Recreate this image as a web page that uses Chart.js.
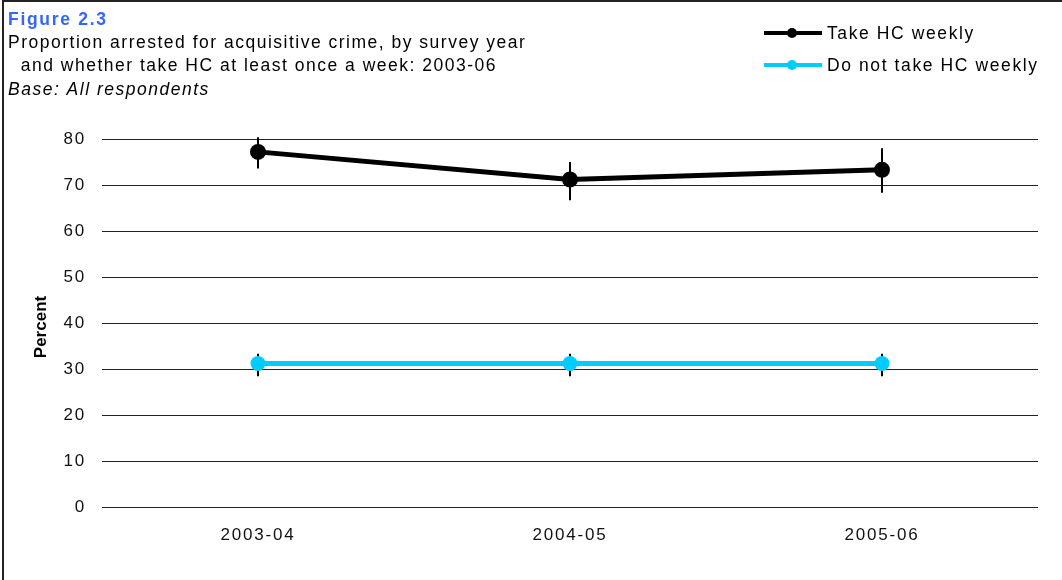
<!DOCTYPE html>
<html><head><meta charset="utf-8">
<script src="https://cdn.jsdelivr.net/npm/chart.js@4/dist/chart.umd.min.js"></script>
<style>html,body{margin:0;padding:0;background:#fff;}canvas{display:block;}</style>
</head><body>
<canvas id="c" width="1062" height="580"></canvas>
<script>
const categories = ['2003-04', '2004-05', '2005-06'];
const seriesNames = ['Take HC weekly', 'Do not take HC weekly'];
const takeWeekly = [77.2, 71.2, 73.3];
const takeWeeklyLow = [73.6, 66.7, 68.3];
const takeWeeklyHigh = [80.4, 75.0, 78.0];
const notWeekly = [31.2, 31.2, 31.2];
const notWeeklyLow = [28.4, 28.4, 28.4];
const notWeeklyHigh = [33.3, 33.3, 33.3];
const yMin = 0, yMax = 80, yStep = 10;
const figureLabel = 'Figure 2.3';
const titleLines = ['Proportion arrested for acquisitive crime, by survey year', '  and whether take HC at least once a week: 2003-06'];
const baseLine = 'Base: All respondents';
const yTitle = 'Percent';

const FONT = '"Liberation Sans", Arial, sans-serif';
const colors = ['#000000', '#00CCFF'];
const lows = [takeWeeklyLow, notWeeklyLow];
const highs = [takeWeeklyHigh, notWeeklyHigh];

const spacingPlugin = {
  id: 'spacing',
  beforeDraw(chart) {
    const ctx = chart.ctx;
    ctx.save();
    ctx.fillStyle = '#fff';
    ctx.fillRect(0, 0, chart.width, chart.height);
    ctx.restore();
    ctx.letterSpacing = '1.8px';
  }
};

const errorBarPlugin = {
  id: 'errorBars',
  beforeDatasetsDraw(chart) {
    const ctx = chart.ctx;
    const y = chart.scales.y;
    ctx.save();
    ctx.strokeStyle = '#000';
    ctx.lineWidth = 2;
    chart.data.datasets.forEach((ds, i) => {
      const meta = chart.getDatasetMeta(i);
      meta.data.forEach((pt, j) => {
        const x = Math.round(pt.x);
        ctx.beginPath();
        ctx.moveTo(x, y.getPixelForValue(highs[i][j]));
        ctx.lineTo(x, y.getPixelForValue(lows[i][j]));
        ctx.stroke();
      });
    });
    ctx.restore();
  }
};

const decorPlugin = {
  id: 'decor',
  afterDraw(chart) {
    const ctx = chart.ctx;
    ctx.save();
    ctx.strokeStyle = '#222';
    ctx.lineWidth = 2;
    ctx.beginPath();
    ctx.moveTo(3, 580);
    ctx.lineTo(3, 1);
    ctx.lineTo(1062, 1);
    ctx.stroke();
    ctx.textBaseline = 'alphabetic';
    ctx.textAlign = 'left';
    ctx.letterSpacing = '1.7px';
    ctx.fillStyle = '#3366FF';
    ctx.font = 'bold 17.5px ' + FONT;
    ctx.fillText(figureLabel, 8, 25);
    ctx.fillStyle = '#000';
    ctx.font = '17.5px ' + FONT;
    ctx.letterSpacing = '1.5px';
    ctx.fillText(titleLines[0], 8, 48);
    ctx.fillText(titleLines[1], 8, 71);
    ctx.font = 'italic 17.5px ' + FONT;
    ctx.fillText(baseLine, 8, 95);
    const ys = [33, 65];
    seriesNames.forEach((name, i) => {
      ctx.strokeStyle = colors[i];
      ctx.fillStyle = colors[i];
      ctx.lineWidth = 4;
      ctx.beginPath();
      ctx.moveTo(764, ys[i]);
      ctx.lineTo(822, ys[i]);
      ctx.stroke();
      ctx.beginPath();
      ctx.arc(792, ys[i], 5, 0, Math.PI * 2);
      ctx.fill();
      ctx.fillStyle = '#000';
      ctx.font = '17.5px ' + FONT;
      ctx.textBaseline = 'middle';
      ctx.letterSpacing = '1.6px';
      ctx.fillText(name, 827, ys[i] + 1);
    });
    ctx.letterSpacing = '0px';
    ctx.translate(41, 327);
    ctx.rotate(-Math.PI / 2);
    ctx.textAlign = 'center';
    ctx.textBaseline = 'middle';
    ctx.font = 'bold 17px ' + FONT;
    ctx.fillStyle = '#000';
    ctx.fillText(yTitle, 0, 0);
    ctx.restore();
  }
};

new Chart(document.getElementById('c'), {
  type: 'line',
  data: {
    labels: categories,
    datasets: [
      { label: seriesNames[0], data: takeWeekly, borderColor: colors[0], backgroundColor: colors[0],
        borderWidth: 5, pointRadius: 8, pointBackgroundColor: colors[0], pointBorderWidth: 0, tension: 0, clip: false },
      { label: seriesNames[1], data: notWeekly, borderColor: colors[1], backgroundColor: colors[1],
        borderWidth: 5, pointRadius: 7.5, pointBackgroundColor: colors[1], pointBorderWidth: 0, tension: 0, clip: false }
    ]
  },
  options: {
    responsive: false,
    animation: false,
    devicePixelRatio: 1,
    layout: { padding: { left: 0, right: 24, top: 139, bottom: 0 } },
    plugins: { legend: { display: false }, tooltip: { enabled: false }, title: { display: false } },
    scales: {
      x: {
        type: 'category',
        offset: true,
        grid: { display: false, drawTicks: false },
        border: { display: false },
        ticks: { color: '#111', padding: 18, font: { family: FONT, size: 17 }, maxRotation: 0 },
        afterFit(s) { s.height = 73; }
      },
      y: {
        min: yMin, max: yMax,
        grid: { color: '#222', lineWidth: 1, drawTicks: false },
        border: { display: false },
        ticks: { stepSize: yStep, color: '#111', padding: 16, font: { family: FONT, size: 17 } },
        afterFit(s) { s.width = 102; }
      }
    }
  },
  plugins: [spacingPlugin, errorBarPlugin, decorPlugin]
});
</script>
</body></html>
